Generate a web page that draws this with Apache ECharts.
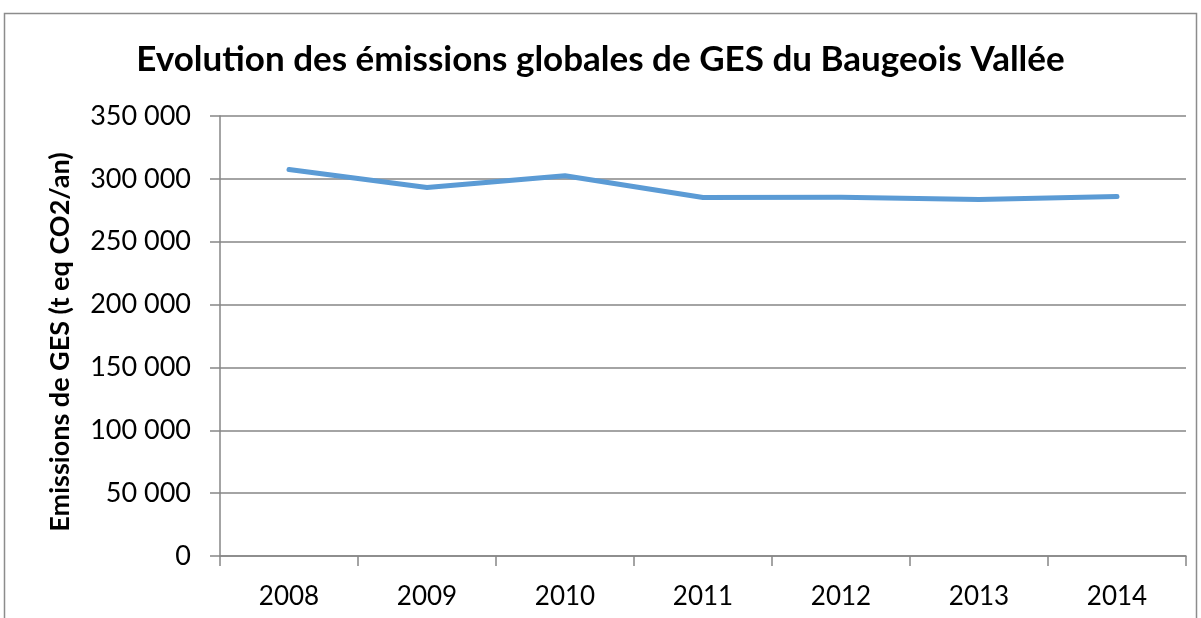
<!DOCTYPE html>
<html>
<head>
<meta charset="utf-8">
<script src="https://cdn.jsdelivr.net/npm/echarts@6/dist/echarts.min.js"></script>
<style>
  html, body { margin: 0; padding: 0; background: #fff; }
  #chart-container { width: 1201px; height: 618px; }
</style>
</head>
<body>
<div id="chart-container"></div>
<script>
// data
const years = ['2008', '2009', '2010', '2011', '2012', '2013', '2014'];
const emissions = [307400, 293100, 302400, 285200, 285400, 283600, 286000];
const yTicks = [0, 50000, 100000, 150000, 200000, 250000, 300000, 350000];

const font = 'Lato, "Open Sans", sans-serif';
const grey = '#868686';

// "350 000" style labels
const fmt = (v) => String(v).replace(/\B(?=(\d{3})+(?!\d))/g, ' ');

const chart = echarts.init(document.getElementById('chart-container'));

const options = {
  backgroundColor: '#fff',
  animation: false,
  title: {
    text: 'Evolution des émissions globales de GES du Baugeois Vallée',
    left: 'center',
    top: 37,
    textStyle: { fontFamily: font, fontSize: 35, fontWeight: 'bold', color: '#000' },
  },
  graphic: [
    {
      type: 'rect',
      shape: { x: 4.5, y: 13.5, width: 1192, height: 640 },
      style: { fill: 'none', stroke: '#8c8c8c', lineWidth: 1.5 },
      silent: true,
    },
  ],
  grid: { left: 220, right: 15, top: 116, bottom: 62 },
  xAxis: {
    type: 'category',
    data: years,
    boundaryGap: true,
    axisLine: { lineStyle: { color: grey, width: 1.5 } },
    axisTick: { show: true, length: 10, interval: 0, lineStyle: { color: grey, width: 1.5 } },
    axisLabel: { fontFamily: font, fontSize: 26, color: '#000', margin: 28 },
  },
  yAxis: {
    type: 'value',
    min: yTicks[0],
    max: yTicks[yTicks.length - 1],
    interval: 50000,
    name: 'Emissions de GES (t eq CO2/an)',
    nameLocation: 'middle',
    nameGap: 146,
    nameRotate: 90,
    nameTextStyle: { fontFamily: font, fontSize: 27, fontWeight: 'bold', color: '#000', padding: [0, 12, 0, 0] },
    axisLine: { show: true, lineStyle: { color: grey, width: 1.5 } },
    axisTick: { show: true, length: 10, lineStyle: { color: grey, width: 1.5 } },
    axisLabel: { fontFamily: font, fontSize: 27, color: '#000', margin: 29, formatter: fmt },
    splitLine: { lineStyle: { color: grey, width: 1.5 } },
  },
  series: [
    {
      name: 'GES',
      type: 'line',
      data: emissions,
      symbol: 'none',
      lineStyle: { color: '#5b9bd5', width: 5, cap: 'round', join: 'round' },
    },
  ],
};

chart.setOption(options);
</script>
</body>
</html>
